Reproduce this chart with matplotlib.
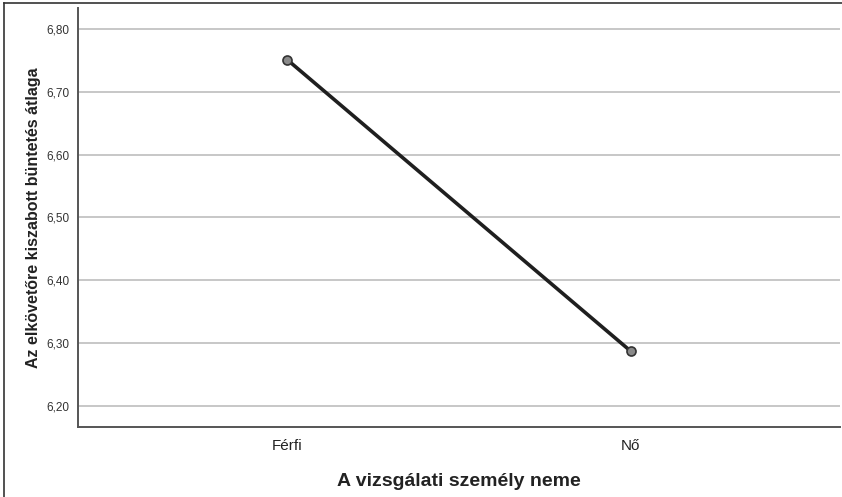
import matplotlib.pyplot as plt
from matplotlib.lines import Line2D
from matplotlib.ticker import FuncFormatter

plt.rcParams["font.family"] = ["Liberation Sans", "DejaVu Sans"]

categories = ["Férfi", "Nő"]
means = [6.751, 6.287]
yticks = [6.2, 6.3, 6.4, 6.5, 6.6, 6.7, 6.8]

fig = plt.figure(figsize=(8.42, 4.97), dpi=100)
ax = fig.add_axes([78 / 842, 1 - 427 / 497, (840 - 78) / 842, (427 - 8) / 497])

x = list(range(len(categories)))
ax.plot(x, means, color="#1f1f1f", lw=2.6, zorder=3)
ax.plot(x, means, ls="none", marker="o", ms=6.5, mfc="#8a8a8a",
        mec="#333333", mew=1.2, zorder=4)

ax.set_xlim(-0.608, 1.608)
ax.set_ylim(6.1667, 6.833)
ax.set_xticks(x)
ax.set_xticklabels(categories, fontsize=11, color="#222222")
ax.set_yticks(yticks)
ax.yaxis.set_major_formatter(FuncFormatter(lambda v, p: f"{v:.2f}".replace(".", ",")))
ax.tick_params(axis="y", labelsize=8.5, colors="#333333", length=0, pad=6)
ax.tick_params(axis="x", length=0, pad=9)

ax.grid(axis="y", color="#b8b8b8", lw=1.1)
ax.set_axisbelow(True)
for side in ["top", "right"]:
    ax.spines[side].set_visible(False)
for side in ["left", "bottom"]:
    ax.spines[side].set_color("#555555")
    ax.spines[side].set_linewidth(1.4)

ax.set_xlabel("A vizsgálati személy neme", fontsize=14, fontweight="bold",
              color="#222222", labelpad=14)
ax.set_ylabel("Az elkövetőre kiszabott büntetés átlaga", fontsize=11.5,
              fontweight="bold", color="#222222", labelpad=4)

# outer frame (left and top edges visible in the reference)
fig.add_artist(Line2D([4 / 842, 4 / 842], [0, 1 - 3 / 497], transform=fig.transFigure,
                      color="#333333", lw=1.2))
fig.add_artist(Line2D([4 / 842, 1], [1 - 3 / 497, 1 - 3 / 497], transform=fig.transFigure,
                      color="#333333", lw=1.2))

fig.savefig("out.png", dpi=100)
